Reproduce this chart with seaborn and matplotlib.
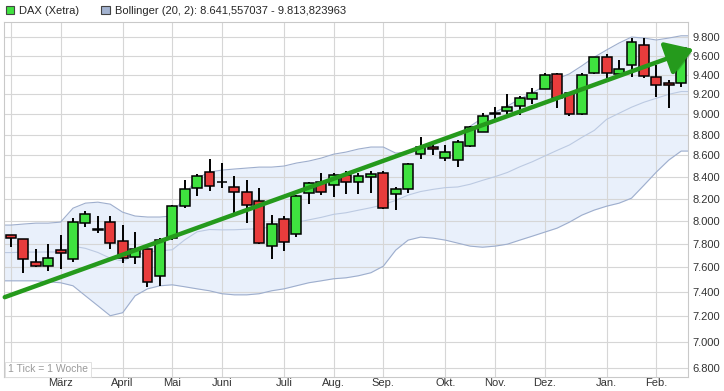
import matplotlib
matplotlib.use("Agg")
import matplotlib.pyplot as plt
import matplotlib.patheffects as pe
from matplotlib.patches import Patch
from matplotlib.ticker import FixedLocator, FuncFormatter, NullLocator
import numpy as np
import pandas as pd
import seaborn as sns

# DAX (Xetra) Wochenkerzen, Feb. 2013 - Feb. 2014 (1 Tick = 1 Woche)
opens = [7876, 7841, 7645, 7611, 7747, 7670, 7981, 7925, 7990, 7824,
         7687, 7755, 7527, 7850, 8132, 8295, 8444, 8348, 8304, 8258,
         8177, 7781, 8016, 7885, 8250, 8350, 8323, 8416, 8350, 8397,
         8434, 8240, 8286, 8612, 8680, 8575, 8556, 8690, 8824, 9005,
         9031, 9081, 9153, 9256, 9410, 9214, 9000, 9420, 9585, 9410,
         9500, 9714, 9380, 9317, 9317]
highs = [7880, 7845, 7755, 7798, 7876, 8026, 8088, 8044, 8044, 7964,
         7903, 7760, 7850, 8141, 8368, 8425, 8566, 8528, 8406, 8368,
         8295, 8052, 8044, 8230, 8350, 8434, 8434, 8452, 8434, 8452,
         8452, 8304, 8528, 8776, 8719, 8700, 8748, 8883, 9011, 9071,
         9204, 9184, 9266, 9420, 9420, 9220, 9420, 9590, 9617, 9553,
         9789, 9789, 9500, 9348, 9690]
lows = [7772, 7552, 7602, 7569, 7586, 7645, 7946, 7894, 7755, 7637,
        7628, 7437, 7445, 7833, 8114, 8221, 8268, 8295, 8070, 7981,
        7800, 7670, 7738, 7859, 8150, 8231, 8213, 8240, 8240, 8250,
        8105, 8097, 8250, 8565, 8603, 8547, 8490, 8680, 8824, 8952,
        9001, 8991, 9102, 9256, 9061, 8981, 8991, 9410, 9367, 9389,
        9380, 9370, 9175, 9061, 9275]
closes = [7850, 7670, 7611, 7678, 7721, 7990, 8061, 7930, 7807, 7678,
          7755, 7479, 7833, 8132, 8285, 8406, 8313, 8352, 8258, 8141,
          7807, 7972, 7815, 8221, 8341, 8258, 8416, 8350, 8406, 8425,
          8114, 8286, 8518, 8680, 8661, 8632, 8728, 8873, 8981, 9015,
          9071, 9163, 9214, 9400, 9163, 9000, 9400, 9585, 9420, 9463,
          9746, 9389, 9296, 9296, 9683]

# Bollinger (20, 2)
boll_upper = [7964, 7973, 7981, 7981, 7990, 8114, 8159, 8168, 8150, 8078,
              8044, 8035, 8035, 8044, 8231, 8387, 8444, 8462, 8472, 8481,
              8490, 8490, 8500, 8528, 8547, 8575, 8612, 8632, 8661, 8680,
              8680, 8622, 8632, 8670, 8719, 8767, 8805, 8882, 8962, 9021,
              9081, 9153, 9214, 9286, 9358, 9410, 9494, 9585, 9662, 9736,
              9800, 9789, 9768, 9789, 9813.82]
boll_mid = [7726, 7730, 7730, 7731, 7731, 7781, 7762, 7727, 7678, 7654,
            7705, 7729, 7741, 7750, 7835, 7905, 7925, 7922, 7923, 7928,
            7932, 7948, 7961, 7988, 8010, 8032, 8059, 8073, 8096, 8118,
            8145, 8184, 8232, 8264, 8284, 8300, 8306, 8331, 8367, 8401,
            8440, 8493, 8540, 8594, 8648, 8700, 8773, 8841, 8950, 9010,
            9070, 9120, 9160, 9200, 9228]
boll_lower = [7489, 7489, 7489, 7481, 7473, 7448, 7366, 7286, 7206, 7230,
              7366, 7423, 7448, 7456, 7440, 7423, 7407, 7383, 7374, 7374,
              7383, 7407, 7423, 7448, 7473, 7489, 7506, 7514, 7531, 7556,
              7611, 7747, 7833, 7859, 7850, 7833, 7807, 7781, 7772, 7781,
              7798, 7833, 7867, 7902, 7937, 7990, 8052, 8097, 8132, 8159,
              8204, 8322, 8444, 8556, 8641.56]

month_weeks = [0, 4, 9, 13, 17, 22, 26, 30, 35, 39, 43, 48, 52]
month_labels = ["", "März", "April", "Mai", "Juni", "Juli", "Aug.", "Sep.",
                "Okt.", "Nov.", "Dez.", "Jan.", "Feb."]
y_ticks = list(range(6800, 9801, 200))

# Trendpfeil: (Woche, Kurs)
trend_start = (-0.5, 7355)
trend_end = (55.0, 9671)

legend_labels = ["DAX (Xetra)", "Bollinger (20, 2): 8.641,557037 - 9.813,823963"]

df = pd.DataFrame({"open": opens, "high": highs, "low": lows, "close": closes,
                   "upper": boll_upper, "mid": boll_mid, "lower": boll_lower})
df["week"] = np.arange(len(df))
df["up"] = df["close"] >= df["open"]

X_LIM = (-0.56, 54.55)

sns.set_style("white")
plt.rcParams["font.family"] = ["Liberation Sans", "DejaVu Sans"]

fig = plt.figure(figsize=(7.24, 3.91), dpi=100)
ax = fig.add_axes([4 / 724, 1 - 377 / 391, 684 / 724, 355 / 391])

# Bollinger-Band (Flaeche bis an die Raender des Charts gezogen)
band_x = np.r_[X_LIM[0], df["week"], X_LIM[1]]
band_lo = np.pad(df["lower"].to_numpy(), 1, mode="edge")
band_hi = np.pad(df["upper"].to_numpy(), 1, mode="edge")
band_mid = np.pad(df["mid"].to_numpy(), 1, mode="edge")
ax.fill_between(band_x, band_lo, band_hi, color="#e9f0fb", zorder=0, lw=0)
sns.lineplot(x=band_x, y=band_hi, ax=ax, color="#9eaecd", lw=0.8, zorder=1)
sns.lineplot(x=band_x, y=band_lo, ax=ax, color="#9eaecd", lw=0.8, zorder=1)
sns.lineplot(x=band_x, y=band_mid, ax=ax, color="#bccae2", lw=0.8, zorder=1)

# Kerzen
ax.vlines(df["week"], df["low"], df["high"], color="black", lw=1.4, zorder=2)
body_bottom = df[["open", "close"]].min(axis=1)
body_height = (df["close"] - df["open"]).abs()
body_colors = np.where(df["up"], "#3fe23f", "#e83c3c")
ax.bar(df["week"], body_height, bottom=body_bottom, width=0.8, color=body_colors,
       edgecolor="black", linewidth=1.1, zorder=3)

# Trendpfeil
ax.annotate("", xy=trend_end, xytext=trend_start, annotation_clip=False, zorder=5,
            arrowprops=dict(arrowstyle="-|>,head_length=1.1,head_width=0.7",
                            mutation_scale=15, color="#259a1c", lw=3.2,
                            shrinkA=0, shrinkB=0,
                            path_effects=[pe.SimplePatchShadow(offset=(1.5, -2), alpha=0.25),
                                          pe.Normal()]))

ax.set_yscale("log")
ax.set_ylim(6735, 9964)
ax.set_xlim(*X_LIM)
ax.yaxis.set_major_locator(FixedLocator(y_ticks))
ax.yaxis.set_minor_locator(NullLocator())
ax.yaxis.set_major_formatter(FuncFormatter(lambda v, p: f"{int(v):,}".replace(",", ".")))
ax.yaxis.tick_right()
ax.tick_params(axis="y", length=0, pad=3, labelsize=8, labelcolor="#333333")

ax.set_xticks(month_weeks)
ax.set_xticklabels(month_labels)
ax.tick_params(axis="x", length=0, pad=1, labelsize=8, labelcolor="#333333")
ax.set_xlabel("")
ax.set_ylabel("")

ax.grid(True, color="#d6d6d6", lw=0.8, zorder=0)
ax.set_axisbelow(True)
for s in ax.spines.values():
    s.set_color("#c9c9c9")
    s.set_linewidth(0.8)

ax.text(0.006, 0.008, "1 Tick = 1 Woche", transform=ax.transAxes, fontsize=7.5,
        color="#9a9a9a", ha="left", va="bottom",
        bbox=dict(boxstyle="square,pad=0.25", facecolor="white", edgecolor="#dcdcdc", lw=0.6))

handles = [Patch(facecolor="#3fe23f", edgecolor="#444444", lw=0.8),
           Patch(facecolor="#a3b3d0", edgecolor="#444444", lw=0.8)]
fig.legend(handles, legend_labels, loc="upper left", bbox_to_anchor=(0.0, 1.0),
           ncol=2, frameon=False, fontsize=8, handlelength=0.8, handleheight=0.8,
           handletextpad=0.4, columnspacing=2.0, borderpad=0.3, borderaxespad=0.2)

fig.savefig("out.png", dpi=100)
